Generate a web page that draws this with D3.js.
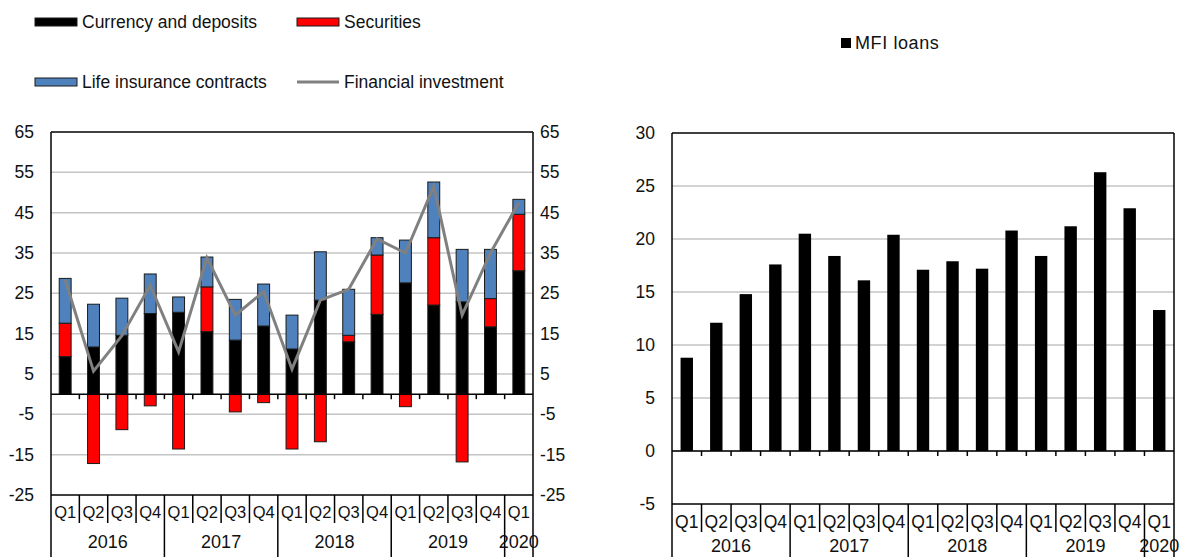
<!DOCTYPE html>
<html>
<head>
<meta charset="utf-8">
<script src="https://cdn.jsdelivr.net/npm/d3@7"></script>
<style>
  body { margin: 0; background: #fff; }
  text { font-family: "Liberation Sans", Arial, sans-serif; font-size: 17.5px; fill: #111; }
</style>
</head>
<body>
<svg id="chart" width="1182" height="557"></svg>
<script>
// data
var quarters = ["Q1","Q2","Q3","Q4","Q1","Q2","Q3","Q4","Q1","Q2","Q3","Q4","Q1","Q2","Q3","Q4","Q1"];
var years = ["2016","2017","2018","2019","2020"];
var yearSize = [4, 4, 4, 4, 1];
var currency = [9.3, 11.7, 14.6, 20.0, 20.3, 15.5, 13.4, 16.9, 11.2, 23.3, 13.0, 19.8, 27.6, 22.1, 22.9, 16.7, 30.6];
var securities = [8.3, -17.2, -8.8, -2.9, -13.6, 11.1, -4.4, -2.1, -13.6, -11.8, 1.6, 14.7, -3.1, 16.7, -16.8, 7.0, 14.0];
var lifeIns = [11.1, 10.6, 9.2, 9.8, 3.8, 7.4, 10.1, 10.4, 8.4, 12.0, 11.4, 4.3, 10.6, 13.8, 13.0, 12.2, 3.7];
var finInvest = [28.3, 5.7, 14.5, 27.0, 10.5, 33.8, 19.6, 25.4, 6.2, 23.3, 26.0, 38.5, 35.0, 51.5, 19.6, 35.0, 47.5];
var mfiLoans = [8.8, 12.1, 14.8, 17.6, 20.5, 18.4, 16.1, 20.4, 17.1, 17.9, 17.2, 20.8, 18.4, 21.2, 26.3, 22.9, 13.3];
var leftTicks = [65, 55, 45, 35, 25, 15, 5, -5, -15, -25];
var rightTicks = [30, 25, 20, 15, 10, 5, 0, -5];

var svg = d3.select("#chart");
var idx = d3.range(quarters.length);

// grid lines and value labels
function drawFrame(g, y, ticks, left, right, rightLabels) {
    g.selectAll(".grid").data(ticks.slice(1, -1)).enter().append("line")
        .attr("x1", left).attr("x2", right)
        .attr("y1", function(d) { return y(d); })
        .attr("y2", function(d) { return y(d); })
        .attr("stroke", "#c4c4c4").attr("stroke-width", 1.5);

    g.selectAll(".ylab").data(ticks).enter().append("text")
        .attr("x", left - 17).attr("y", function(d) { return y(d) + 6; })
        .attr("text-anchor", "end").text(function(d) { return d; });
    if (rightLabels) {
        g.selectAll(".ylab2").data(ticks).enter().append("text")
            .attr("x", right + 7).attr("y", function(d) { return y(d) + 6; })
            .text(function(d) { return d; });
    }
}

function drawCatAxis(g, x, y, left, right, top, bottom, qH, qLabY, yLabY, qSize) {
    var step = x.step();
    // zero-line ticks
    g.selectAll(".ztick").data(d3.range(1, quarters.length)).enter().append("line")
        .attr("x1", function(d) { return left + d * step; })
        .attr("x2", function(d) { return left + d * step; })
        .attr("y1", y(0)).attr("y2", y(0) + 5)
        .attr("stroke", "#000").attr("stroke-width", 1.5);
    // frame
    g.append("line").attr("x1", left).attr("x2", right).attr("y1", top).attr("y2", top)
        .attr("stroke", "#000").attr("stroke-width", 1.5);
    g.append("line").attr("x1", left).attr("x2", right).attr("y1", bottom).attr("y2", bottom)
        .attr("stroke", "#000").attr("stroke-width", 1.5);
    g.append("line").attr("x1", left).attr("x2", left).attr("y1", top).attr("y2", 557)
        .attr("stroke", "#000").attr("stroke-width", 1.5);
    g.append("line").attr("x1", right).attr("x2", right).attr("y1", top).attr("y2", 557)
        .attr("stroke", "#000").attr("stroke-width", 1.5);
    g.append("line").attr("x1", left).attr("x2", right).attr("y1", y(0)).attr("y2", y(0))
        .attr("stroke", "#000").attr("stroke-width", 1.5);

    var yearEdges = [];
    var acc = 0;
    yearSize.forEach(function(n) { acc += n; yearEdges.push(acc); });
    g.selectAll(".qsep").data(d3.range(1, quarters.length)).enter().append("line")
        .attr("x1", function(d) { return left + d * step; })
        .attr("x2", function(d) { return left + d * step; })
        .attr("y1", bottom)
        .attr("y2", function(d) { return yearEdges.indexOf(d) >= 0 ? 557 : bottom + qH; })
        .attr("stroke", "#000").attr("stroke-width", 1.5);

    g.selectAll(".qlab").data(idx).enter().append("text")
        .attr("x", function(d) { return x(d) + x.bandwidth() / 2; })
        .attr("y", qLabY).attr("text-anchor", "middle")
        .style("font-size", qSize + "px")
        .text(function(d) { return quarters[d]; });

    var start = 0;
    years.forEach(function(yr, i) {
        var mid = left + (start + yearSize[i] / 2) * step;
        g.append("text").attr("x", mid).attr("y", yLabY)
            .attr("text-anchor", "middle").style("font-size", "18px").text(yr);
        start += yearSize[i];
    });
}

// ---- left chart ----
var L = { left: 51, right: 533, top: 132, bottom: 495 };
var x1 = d3.scaleBand().domain(idx).range([L.left, L.right]).paddingInner(0.58).paddingOuter(0.29);
var yL = d3.scaleLinear().domain([-25, 65]).range([L.bottom, L.top]);
var gL = svg.append("g");
drawFrame(gL, yL, leftTicks, L.left, L.right, true);

var rows = idx.map(function(i) {
    return { i: i, currency: currency[i], securities: securities[i], life: lifeIns[i] };
});
var keys = ["currency", "securities", "life"];
var colors = { currency: "#000000", securities: "#ff0000", life: "#4f81bd" };
var stacked = d3.stack().keys(keys).offset(d3.stackOffsetDiverging)(rows);

gL.selectAll(".series").data(stacked).enter().append("g")
    .attr("fill", function(d) { return colors[d.key]; })
    .selectAll("rect").data(function(d) { return d; }).enter().append("rect")
    .attr("x", function(d) { return x1(d.data.i); })
    .attr("width", x1.bandwidth())
    .attr("y", function(d) { return yL(Math.max(d[0], d[1])); })
    .attr("height", function(d) { return Math.abs(yL(d[0]) - yL(d[1])); })
    .attr("stroke", "#1a1a1a").attr("stroke-width", 1);

drawCatAxis(gL, x1, yL, L.left, L.right, L.top, L.bottom, 28, 518, 548, 16.5);

var line = d3.line()
    .x(function(d, i) { return x1(i) + x1.bandwidth() / 2; })
    .y(function(d) { return yL(d); });
gL.append("path").datum(finInvest).attr("d", line)
    .attr("fill", "none").attr("stroke", "#808080").attr("stroke-width", 3);

// legend left
var legItems = [
    { label: "Currency and deposits", type: "box", color: "#000000", x: 35, y: 22 },
    { label: "Securities", type: "box", color: "#ff0000", x: 297, y: 22 },
    { label: "Life insurance contracts", type: "box", color: "#4f81bd", x: 35, y: 82 },
    { label: "Financial investment", type: "line", color: "#808080", x: 297, y: 82 }
];
legItems.forEach(function(d) {
    if (d.type === "box") {
        svg.append("rect").attr("x", d.x).attr("y", d.y - 4).attr("width", 42).attr("height", 8)
            .attr("fill", d.color).attr("stroke", "#1a1a1a").attr("stroke-width", 1);
    } else {
        svg.append("line").attr("x1", d.x).attr("x2", d.x + 42).attr("y1", d.y).attr("y2", d.y)
            .attr("stroke", d.color).attr("stroke-width", 3);
    }
    svg.append("text").attr("x", d.x + 47).attr("y", d.y + 6).text(d.label);
});

// ---- right chart ----
var R = { left: 672, right: 1174, top: 133, bottom: 504 };
var x2 = d3.scaleBand().domain(idx).range([R.left, R.right]).paddingInner(0.58).paddingOuter(0.29);
var yR = d3.scaleLinear().domain([-5, 30]).range([R.bottom, R.top]);
var gR = svg.append("g");
drawFrame(gR, yR, rightTicks, R.left, R.right, false);

gR.selectAll(".mfi").data(mfiLoans).enter().append("rect")
    .attr("x", function(d, i) { return x2(i); })
    .attr("width", x2.bandwidth())
    .attr("y", function(d) { return yR(d); })
    .attr("height", function(d) { return yR(0) - yR(d); })
    .attr("fill", "#000");

drawCatAxis(gR, x2, yR, R.left, R.right, R.top, R.bottom, 28, 528, 552, 17.5);

svg.append("rect").attr("x", 841).attr("y", 38).attr("width", 10).attr("height", 10).attr("fill", "#000");
svg.append("text").attr("x", 855).attr("y", 49).style("font-size", "18px")
    .style("letter-spacing", "0.6px").text("MFI loans");
</script>
</body>
</html>
